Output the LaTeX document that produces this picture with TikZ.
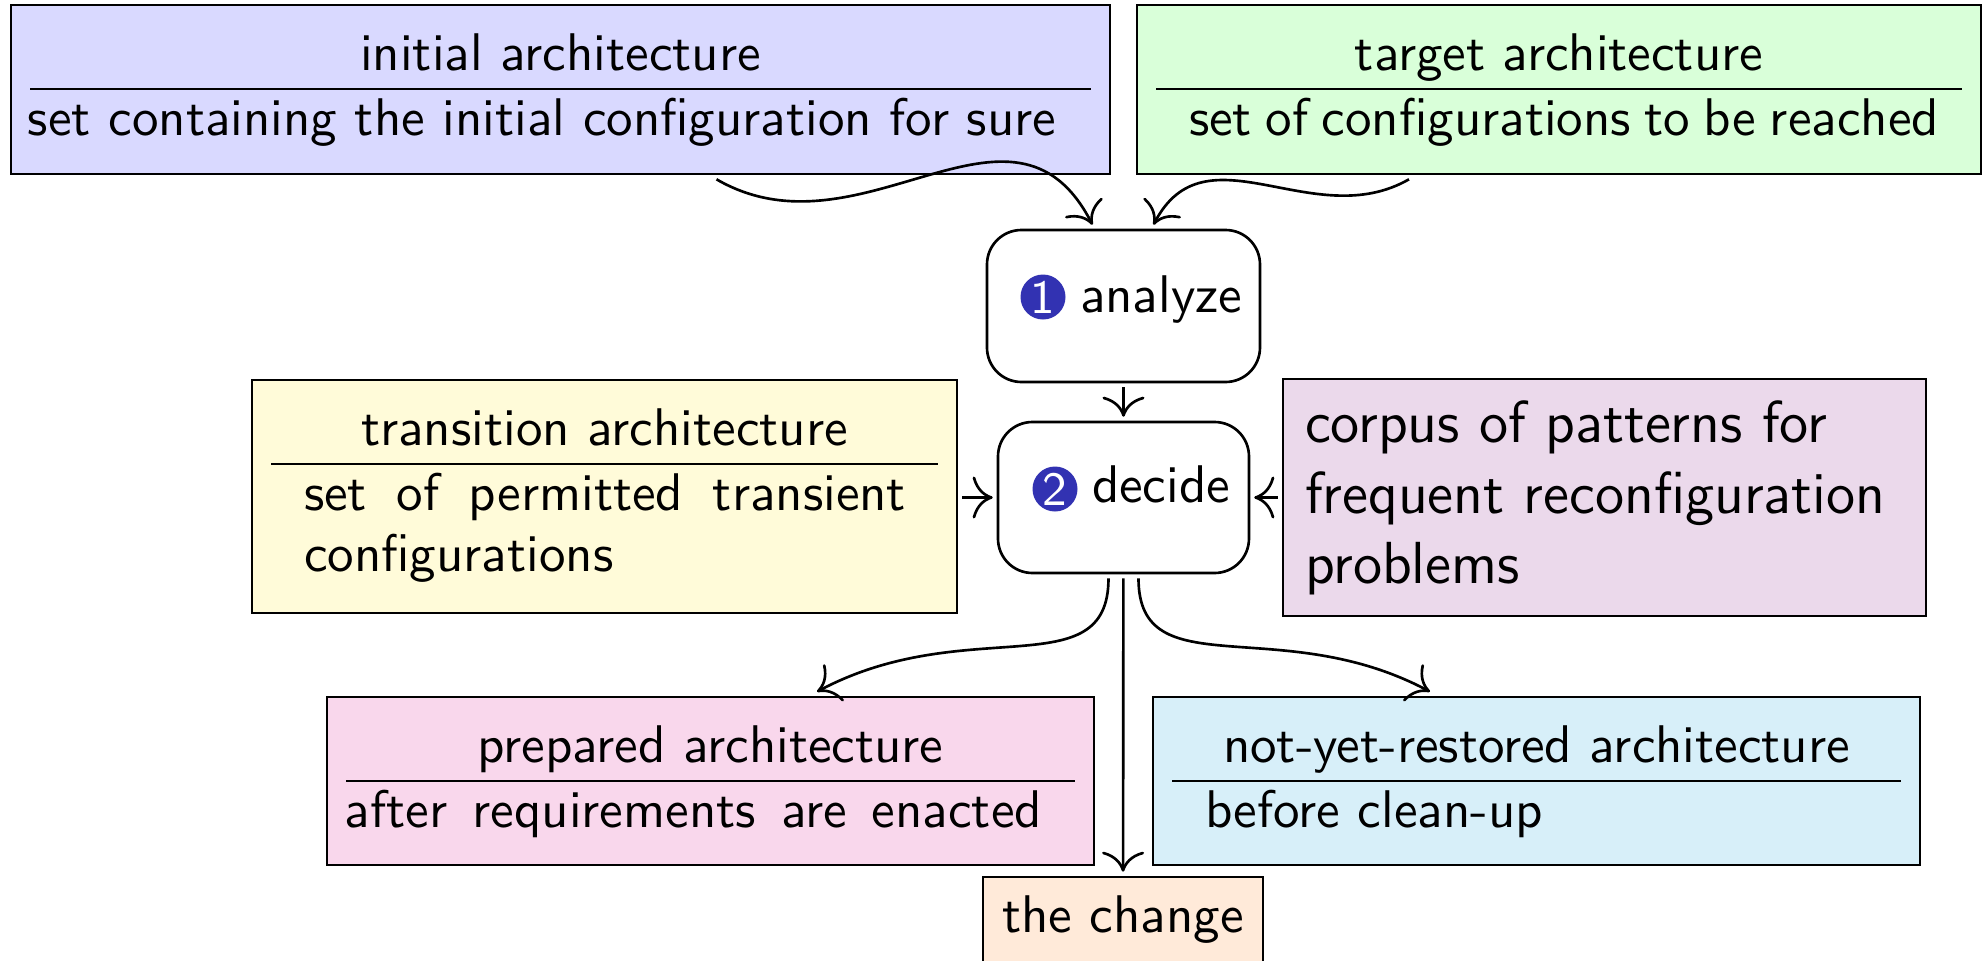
\documentclass[tikz,border=0pt]{standalone}
\usetikzlibrary{fit,calc,arrows.meta}
\definecolor{cinit}{RGB}{217,217,255}
\definecolor{ctarget}{RGB}{217,255,217}
\definecolor{ctrans}{RGB}{255,251,217}
\definecolor{ccorpus}{RGB}{235,217,235}
\definecolor{cprep}{RGB}{249,215,236}
\definecolor{cnotyet}{RGB}{215,239,249}
\definecolor{cchange}{RGB}{255,234,217}
\definecolor{numblue}{RGB}{50,50,178}
\newcommand\pxu{0.18868pt}
\begin{document}
\begin{tikzpicture}[x=\pxu, y=-\pxu, font=\sffamily,
  >={Computer Modern Rightarrow[scale=1.4]},
  box/.style={draw, line width=0.5pt, inner sep=0pt, outer sep=1pt},
  stepbox/.style={box, rounded corners=6.5pt},
  lbl/.style={inner sep=0pt, outer sep=0pt, anchor=base},
  body/.style={lbl, anchor=base west},
  bigbody/.style={body, font=\sffamily\fontsize{11.2}{13.2}\selectfont},
  numdot/.style={circle, fill=numblue, text=white, inner sep=0pt,
    minimum size=45*\pxu, font=\sffamily\small},
  conn/.style={->, line width=0.5pt},
  divider/.style={line width=0.5pt}]
\useasboundingbox (0,0) rectangle (1987,961);

% architectures given as input
\node[box, fill=cinit, fit={(11,5) (1110,174)}] (initial) {};
\node[lbl] (initialT) at (560.5,70) {initial architecture};
\draw[divider] (30,89) -- (1091,89);
\node[body] (initialB) at (28,135) {set containing the initial configuration for sure};

\node[box, fill=ctarget, fit={(1137,5) (1981,174)}] (target) {};
\node[lbl] (targetT) at (1559,70) {target architecture};
\draw[divider] (1156,89) -- (1962,89);
\node[body] (targetB) at (1189,135) {\makebox[141.5pt][s]{set of configurations to be reached}};

% the two steps
\node[stepbox, fit={(987,230) (1260,382)}] (analyze) {};
\node[numdot] (n1) at (1043,297) {1};
\node[body] (analyzeT) at (1080,312) {analyze};

\node[stepbox, fit={(998,422) (1249,573)}] (decide) {};
\node[numdot] (n2) at (1055,489) {2};
\node[body] (decideT) at (1092,502) {decide};

% side inputs of the decision
\node[box, fill=ctrans, fit={(252,380) (957,613)}] (transition) {};
\node[lbl] (transitionT) at (604.5,445) {transition architecture};
\draw[divider] (271,464) -- (938,464);
\node[body] (transitionB1) at (304,510) {\makebox[113.6pt][s]{set of permitted transient}};
\node[body] (transitionB2) at (304,571) {configurations};

\node[box, fill=ccorpus, fit={(1283,379) (1926,616)}] (corpus) {};
\node[bigbody] (corpus1) at (1305,442) {corpus of patterns for};
\node[bigbody] (corpus2) at (1305,513) {frequent reconfiguration};
\node[bigbody] (corpus3) at (1305,583) {problems};

% results
\node[box, fill=cprep, fit={(327,697) (1094,865)}] (prepared) {};
\node[lbl] (preparedT) at (710.5,762) {prepared architecture};
\draw[divider] (346,781) -- (1075,781);
\node[body] (preparedB) at (345,827) {\makebox[131.5pt][s]{after requirements are enacted}};

\node[box, fill=cnotyet, fit={(1153,697) (1920,865)}] (notyet) {};
\node[lbl] (notyetT) at (1536.5,762) {not-yet-restored architecture};
\draw[divider] (1172,781) -- (1901,781);
\node[body] (notyetB) at (1205,827) {before clean-up};

\node[box, fill=cchange, fit={(983,877) (1263,975)}] (change) {};
\node[lbl] (changeT) at (1123,932) {the change};

% connectors
\draw[conn] ($(initial.south)+(156,0)$) .. controls +(145,84) and +(-80,-155) .. ($(analyze.north)+(-31,0)$);
\draw[conn] ($(target.south)+(-150,0)$) .. controls +(-96,55) and +(52,-100) .. ($(analyze.north)+(30,0)$);
\draw[conn] (analyze) -- (decide);
\draw[conn] (transition.east |- decide.west) -- (decide.west);
\draw[conn] (corpus.west |- decide.east) -- (decide.east);
\draw[conn] (decide) -- (change);
\draw[conn] ($(decide.south)+(-15,0)$) .. controls +(0,110) and +(150,-80) .. ($(prepared.north)+(106.5,0)$);
\draw[conn] ($(decide.south)+(15,0)$) .. controls +(0,110) and +(-150,-80) .. ($(notyet.north)+(-106.5,0)$);
\end{tikzpicture}
\end{document}
